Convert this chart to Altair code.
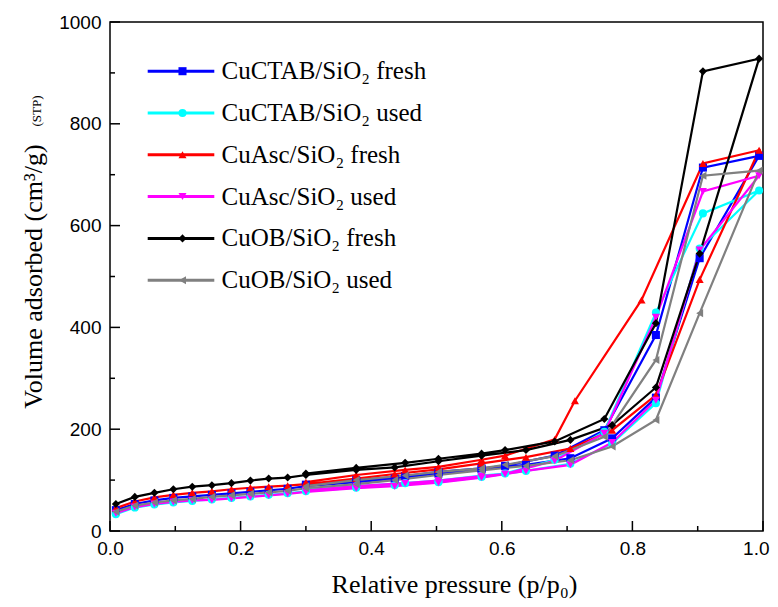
import altair as alt
import pandas as pd

series_names = ["CuCTAB/SiO₂ fresh", "CuCTAB/SiO₂ used", "CuAsc/SiO₂ fresh",
                "CuAsc/SiO₂ used", "CuOB/SiO₂ fresh", "CuOB/SiO₂ used"]
colors = ["#0000FF", "#00FFFF", "#FF0000", "#FF00FF", "#000000", "#808080"]
shapes = ["square", "circle", "triangle-up", "triangle-down", "diamond", "triangle-left"]

# relative pressure of adsorption branch points
p_ads = [0.009, 0.038, 0.068, 0.097, 0.126, 0.156, 0.186, 0.215, 0.243, 0.272,
         0.300, 0.377, 0.436, 0.503, 0.569, 0.637, 0.705, 0.769, 0.836, 0.903, 0.994]
# relative pressure of desorption branch points
p_des = [0.908, 0.836, 0.757, 0.681, 0.605, 0.569, 0.503, 0.452, 0.377, 0.300]
p_des_asc = [0.908, 0.814, 0.712, 0.681, 0.605, 0.569, 0.503, 0.452, 0.377, 0.300]

ctab_fresh_ads = [41, 53, 60, 65, 68, 71, 74, 77, 80, 83, 88, 96, 103, 113, 121, 130, 143, 182, 262, 536, 737]
ctab_fresh_des = [714, 385, 198, 148, 128, 123, 116, 108, 100, 91]
ctab_used_ads = [33, 46, 52, 56, 59, 62, 65, 68, 71, 74, 78, 85, 90, 96, 106, 118, 132, 172, 251, 555, 669]
ctab_used_des = [624, 429, 195, 140, 113, 109, 99, 94, 88, 81]
asc_fresh_ads = [45, 58, 66, 71, 75, 78, 82, 85, 87, 89, 92, 103, 112, 121, 133, 145, 162, 198, 267, 494, 748]
asc_fresh_des = [722, 454, 256, 180, 148, 140, 126, 120, 110, 96]
asc_used_ads = [35, 47, 53, 57, 60, 61, 64, 67, 70, 73, 77, 84, 88, 95, 105, 118, 130, 174, 257, 552, 698]
asc_used_des = [667, 420, 192, 138, 112, 108, 99, 94, 88, 80]
ob_fresh_ads = [53, 67, 75, 82, 87, 90, 94, 99, 103, 105, 110, 120, 125, 137, 148, 159, 179, 208, 282, 545, 928]
ob_fresh_des = [903, 408, 220, 176, 159, 152, 142, 134, 124, 113]
ob_used_ads = [38, 50, 56, 60, 63, 67, 70, 73, 76, 79, 84, 92, 100, 110, 119, 128, 139, 166, 218, 428, 708]
ob_used_des = [698, 336, 185, 147, 130, 123, 116, 109, 100, 88]

# axis tick values: labelled major ticks and unlabelled minor ticks
x_major = [0.0, 0.2, 0.4, 0.6, 0.8, 1.0]
x_minor = [0.1, 0.3, 0.5, 0.7, 0.9]
y_major = [0, 200, 400, 600, 800, 1000]
y_minor = [100, 300, 500, 700, 900]

branches = [
    (series_names[0], p_ads, ctab_fresh_ads, p_des, ctab_fresh_des),
    (series_names[1], p_ads, ctab_used_ads, p_des, ctab_used_des),
    (series_names[2], p_ads, asc_fresh_ads, p_des_asc, asc_fresh_des),
    (series_names[3], p_ads, asc_used_ads, p_des, asc_used_des),
    (series_names[4], p_ads, ob_fresh_ads, p_des, ob_fresh_des),
    (series_names[5], p_ads, ob_used_ads, p_des, ob_used_des),
]
rows = []
for name, pa, va, pdz, vd in branches:
    pts = list(zip(pa, va)) + list(zip(pdz, vd))
    for i, (p, v) in enumerate(pts):
        rows.append({"series": name, "p": p, "v": v, "idx": i})
df = pd.DataFrame(rows)

SERIF = "Liberation Serif"
SANS = "Liberation Sans"
W, H = 653, 509
X_MIN, X_MAX, Y_MIN, Y_MAX = 0.0, 1.0, 0, 1000

# inner tick marks, lengths expressed in data units of the other axis (10 px / 5 px)
ylen_major = 10 / H * (Y_MAX - Y_MIN)
ylen_minor = 5 / H * (Y_MAX - Y_MIN)
xlen_major = 10 / W * (X_MAX - X_MIN)
xlen_minor = 5 / W * (X_MAX - X_MIN)
xticks_df = pd.DataFrame({
    "t": x_major + x_minor,
    "y0": [Y_MIN] * (len(x_major) + len(x_minor)),
    "y1": [Y_MIN + ylen_major] * len(x_major) + [Y_MIN + ylen_minor] * len(x_minor),
})
yticks_df = pd.DataFrame({
    "t": y_major + y_minor,
    "x0": [X_MIN] * (len(y_major) + len(y_minor)),
    "x1": [X_MIN + xlen_major] * len(y_major) + [X_MIN + xlen_minor] * len(y_minor),
})

xs = alt.Scale(domain=[X_MIN, X_MAX], nice=False, zero=False)
ys = alt.Scale(domain=[Y_MIN, Y_MAX], nice=False)
cs = alt.Scale(domain=series_names, range=colors)
ss = alt.Scale(domain=series_names, range=shapes)

x_axis = alt.Axis(
    orient="bottom", values=x_major, format=".1f", ticks=False, domain=False, grid=False,
    labelFont=SANS, labelFontSize=19, labelColor="black",
    labelPadding=8, labelFlush=False, labelOverlap=False,
    labelAlign={"condition": {"test": "datum.value >= 1", "value": "right"}, "value": "center"},
    labelOffset={"condition": {"test": "datum.value >= 1", "value": 6}, "value": 0},
    title="Relative pressure (p/p₀)", titleFont=SERIF, titleFontSize=26,
    titleFontWeight="normal", titleColor="black", titleX=344, titleY=61,
    titleAlign="center", titleBaseline="alphabetic")
y_axis = alt.Axis(
    orient="left", values=y_major, format="d", ticks=False, domain=False, grid=False,
    labelFont=SANS, labelFontSize=19, labelColor="black",
    labelPadding=9, labelFlush=False, labelOverlap=False,
    title="Volume adsorbed (cm³/g)", titleFont=SERIF, titleFontSize=26,
    titleFontWeight="normal", titleColor="black", titleX=-64, titleY=254,
    titleAngle=270, titleAlign="center", titleBaseline="bottom")

legend_lines = alt.Legend(title=None, orient="none", legendX=58.5, legendY=36.7,
                          symbolType="M-6.66,0H6.66", symbolSize=100, symbolStrokeWidth=3,
                          labelFont=SERIF, labelFontSize=25, labelColor="black", labelOffset=28,
                          rowPadding=15.8, labelLimit=400, padding=0)
# marker-only legend laid over the line legend (its labels are blank)
legend_marks = alt.Legend(title=None, orient="none", legendX=60, legendY=36.7,
                          symbolSize=65, symbolStrokeWidth=0, symbolOpacity=1,
                          labelFont=SERIF, labelFontSize=25, labelOpacity=0, labelOffset=28,
                          labelExpr="' '",
                          rowPadding=15.8, labelLimit=400, padding=0)

xtick_layer = alt.Chart(xticks_df).mark_rule(color="black", strokeWidth=1.5).encode(
    x=alt.X("t:Q", scale=xs, axis=x_axis),
    y=alt.Y("y0:Q", scale=ys, axis=y_axis),
    y2="y1:Q",
)
ytick_layer = alt.Chart(yticks_df).mark_rule(color="black", strokeWidth=1.5).encode(
    y=alt.Y("t:Q", scale=ys),
    x=alt.X("x0:Q", scale=xs),
    x2="x1:Q",
)
lines = alt.Chart(df).mark_line(strokeWidth=2.2).encode(
    x=alt.X("p:Q", scale=xs),
    y=alt.Y("v:Q", scale=ys),
    color=alt.Color("series:N", scale=cs, legend=legend_lines),
    order="idx:Q",
)
points = alt.Chart(df).mark_point(filled=True, size=65, opacity=1).encode(
    x=alt.X("p:Q", scale=xs),
    y=alt.Y("v:Q", scale=ys),
    color=alt.Color("series:N", scale=cs, legend=legend_marks),
    shape=alt.Shape("series:N", scale=ss, legend=legend_marks),
)
stp = alt.Chart(pd.DataFrame({"t": ["(STP)"]})).mark_text(
    angle=270, font=SERIF, fontSize=13, color="black", baseline="middle", align="center"
).encode(x=alt.value(-73), y=alt.value(89), text="t:N")

chart = alt.layer(xtick_layer, ytick_layer, lines, points, stp).resolve_legend(
    color="independent", shape="independent"
).properties(
    width=W, height=H,
    autosize=alt.AutoSizeParams(type="none"),
    padding={"left": 102, "top": 14, "right": 7, "bottom": 68},
).configure_view(stroke="black", strokeWidth=1.5)

chart.save("out.html", embed_options={"renderer": "svg", "actions": False})
